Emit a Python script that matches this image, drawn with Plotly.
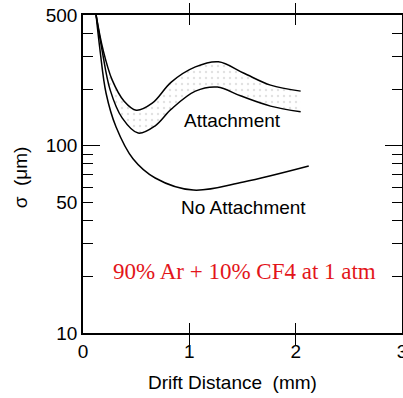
import plotly.graph_objects as go
import math

# Upper boundary of the "Attachment" band
att_hi_x = [0.123, 0.189, 0.274, 0.387, 0.500, 0.651, 0.830, 1.057, 1.274, 1.509, 1.764, 2.047]
att_hi_y = [500, 325, 225, 173, 155, 169, 219, 264, 281, 245, 211, 196]

# Lower boundary of the "Attachment" band
att_lo_x = [0.123, 0.179, 0.255, 0.368, 0.519, 0.679, 0.830, 1.057, 1.264, 1.481, 1.764, 2.047]
att_lo_y = [500, 325, 199, 141, 117, 128, 157, 196, 206, 185, 163, 152]

# "No Attachment" curve
noatt_x = [0.123, 0.160, 0.217, 0.311, 0.472, 0.679, 1.038, 1.509, 2.123]
noatt_y = [500, 325, 191, 126, 85, 67.3, 58, 64.1, 78]

y_ticks = [10, 20, 30, 40, 50, 60, 70, 80, 90, 100, 200, 300, 400, 500]
y_labels = {10: "10", 50: "50", 100: "100", 500: "500"}
x_ticks = [0, 1, 2, 3]

FONT = "Liberation Sans, Arial, Helvetica, sans-serif"
line = dict(color="black", width=1.5, shape="spline", smoothing=1.0)

fig = go.Figure()
fig.add_trace(go.Scatter(x=att_lo_x, y=att_lo_y, mode="lines", line=line, showlegend=False))
fig.add_trace(go.Scatter(x=att_hi_x, y=att_hi_y, mode="lines", line=line, showlegend=False,
                         fill="tonexty", fillcolor="rgba(0,0,0,0)",
                         fillpattern=dict(shape=".", fgcolor="#c4c4c4", bgcolor="white",
                                          size=6, solidity=0.12)))
fig.add_trace(go.Scatter(x=noatt_x, y=noatt_y, mode="lines", line=line, showlegend=False))
# invisible trace to bind overlay axis for the long decade ticks
fig.add_trace(go.Scatter(x=[None], y=[None], yaxis="y2", showlegend=False, hoverinfo="skip"))

yr = [1, math.log10(500)]
fig.update_layout(
    width=403, height=398,
    margin=dict(l=83, r=1, t=15, b=65),
    paper_bgcolor="white", plot_bgcolor="white",
    font=dict(family=FONT, size=19, color="black"),
    xaxis=dict(range=[0, 3], tickvals=x_ticks, ticktext=[str(v) for v in x_ticks],
               ticks="inside", ticklen=10, tickwidth=1.2, tickcolor="black",
               showline=True, linecolor="black", linewidth=1.5, mirror="allticks",
               showgrid=False, zeroline=False, automargin=False,
               ticklabeloverflow="allow",
               tickfont=dict(size=19, family=FONT)),
    yaxis=dict(type="log", range=yr, tickvals=y_ticks,
               ticktext=[y_labels.get(v, "") for v in y_ticks],
               ticks="inside", ticklen=10, tickwidth=1.2, tickcolor="black",
               showline=True, linecolor="black", linewidth=1.5, mirror="allticks",
               showgrid=False, zeroline=False, automargin=False,
               tickfont=dict(size=19, family=FONT)),
    yaxis2=dict(type="log", range=yr, overlaying="y", tickvals=[10, 100],
                ticktext=["", ""], ticks="inside", ticklen=17, tickwidth=1.2,
                tickcolor="black", showline=False, mirror="allticks",
                showgrid=False, zeroline=False, automargin=False, side="left"),
    annotations=[
        dict(text="Attachment", x=1.406, y=2.138, xref="x", yref="y", showarrow=False,
             font=dict(size=19, family=FONT)),
        dict(text="No Attachment", x=1.51, y=1.668, xref="x", yref="y", showarrow=False,
             font=dict(size=19, family=FONT)),
        dict(text="90% Ar + 10% CF4 at 1 atm", x=1.52, y=1.331, xref="x", yref="y",
             showarrow=False,
             font=dict(size=23, family="Liberation Serif, Times New Roman, serif", color="#e3151a")),
        dict(text="Drift Distance  (mm)", x=0.47, y=-0.157, xref="paper", yref="paper",
             showarrow=False, xanchor="center", yanchor="middle",
             font=dict(size=19, family=FONT)),
        dict(text="σ  (μm)", x=-0.197, y=0.49, xref="paper", yref="paper", textangle=-90,
             showarrow=False, xanchor="center", yanchor="middle",
             font=dict(size=19, family=FONT)),
    ],
)

fig.write_html("out.html")
